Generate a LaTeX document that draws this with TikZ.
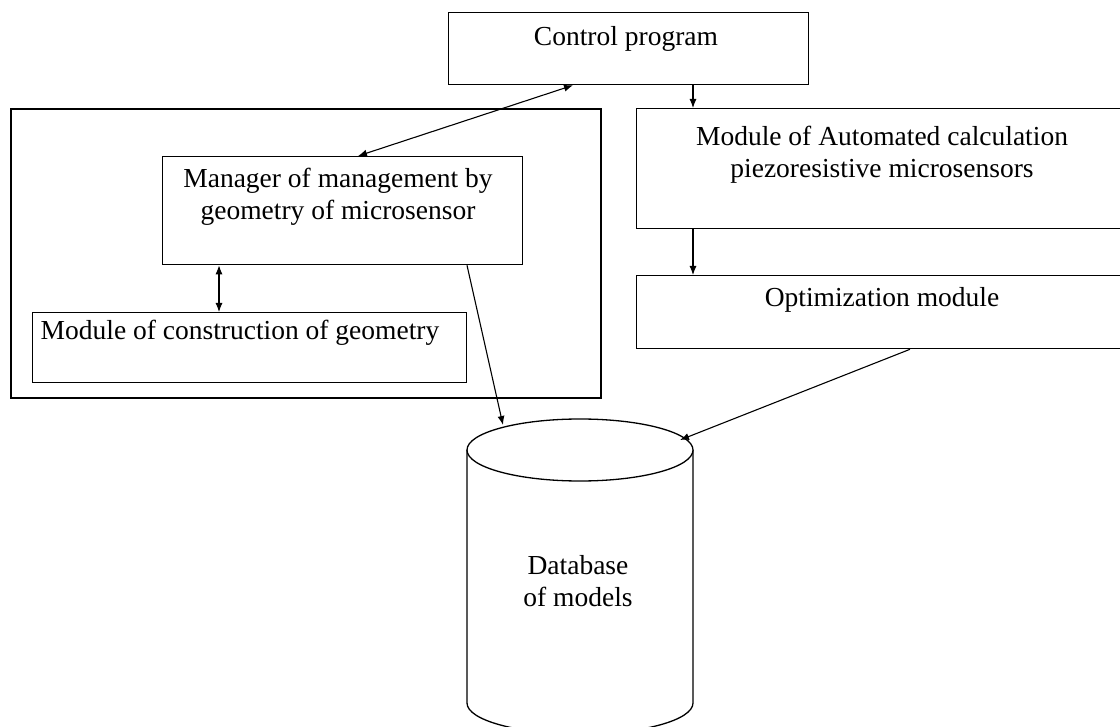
\documentclass[tikz,border=0pt]{standalone}
\usepackage{fontspec}
\setmainfont{Liberation Serif}
\usetikzlibrary{arrows.meta}
\begin{document}
\begin{tikzpicture}[x=1pt,y=-1pt,
  box/.style={draw, line width=1.3pt, inner sep=0pt, anchor=north west},
  lbl/.style={font=\fontsize{27.5}{32}\selectfont, align=center, inner sep=0pt},
  arr/.style={line width=1.1pt, -{Latex[length=9pt,width=7pt]}},
  darr/.style={line width=1.1pt, {Latex[length=9pt,width=7pt]}-{Latex[length=9pt,width=7pt]}}]
\useasboundingbox (0,0) rectangle (1120,727);
\clip (0,0) rectangle (1120,727);
\fill[white] (0,0) rectangle (1120,727);
% boxes
\node[box, minimum width=360pt, minimum height=72pt] (ctrl) at (448,12) {};
\node[box, line width=2pt, minimum width=590pt, minimum height=289pt] (outer) at (10,108) {};
\node[box, minimum width=360pt, minimum height=108pt] (mgr) at (162,156) {};
\node[box, minimum width=434pt, minimum height=70pt] (cons) at (32,312) {};
\node[box, minimum width=520pt, minimum height=120pt] (auto) at (636,108) {};
\node[box, minimum width=520pt, minimum height=73pt] (opt) at (636,275) {};
% labels
\node[lbl] (ctrlT) at (626,39) {Control program};
\node[lbl] (autoT) at (882,155) {Module of Automated calculation\\piezoresistive microsensors};
\node[lbl] (optT) at (882,300) {Optimization module};
\node[lbl] (mgrT) at (338,197) {Manager of management by\\geometry of microsensor};
\node[lbl] (consT) at (240,333) {Module of construction of geometry};
% database cylinder
\draw[line width=1.3pt] (467,450) -- (467,703) arc[start angle=180, end angle=360, x radius=113pt, y radius=31pt] -- (693,450);
\draw[line width=1.3pt, fill=white] (580,450) ellipse [x radius=113pt, y radius=31pt];
\node[lbl] (db) at (578,581) {Database\\of models};
\coordinate (dbA) at (503,425);
\coordinate (dbB) at (680,440);
% connectors
\draw[arr] ([xshift=245pt]ctrl.south west) -- ([xshift=57pt]auto.north west);
\draw[arr] ([xshift=57pt]auto.south west) -- ([xshift=57pt]opt.north west);
\draw[darr] ([xshift=196pt]mgr.north west) -- ([xshift=125pt]ctrl.south west);
\draw[darr] ([xshift=57pt]mgr.south west) -- ([xshift=187pt]cons.north west);
\draw[arr] ([xshift=305pt]mgr.south west) -- (dbA);
\draw[arr] ([xshift=274pt]opt.south west) -- (dbB);
\end{tikzpicture}
\end{document}
